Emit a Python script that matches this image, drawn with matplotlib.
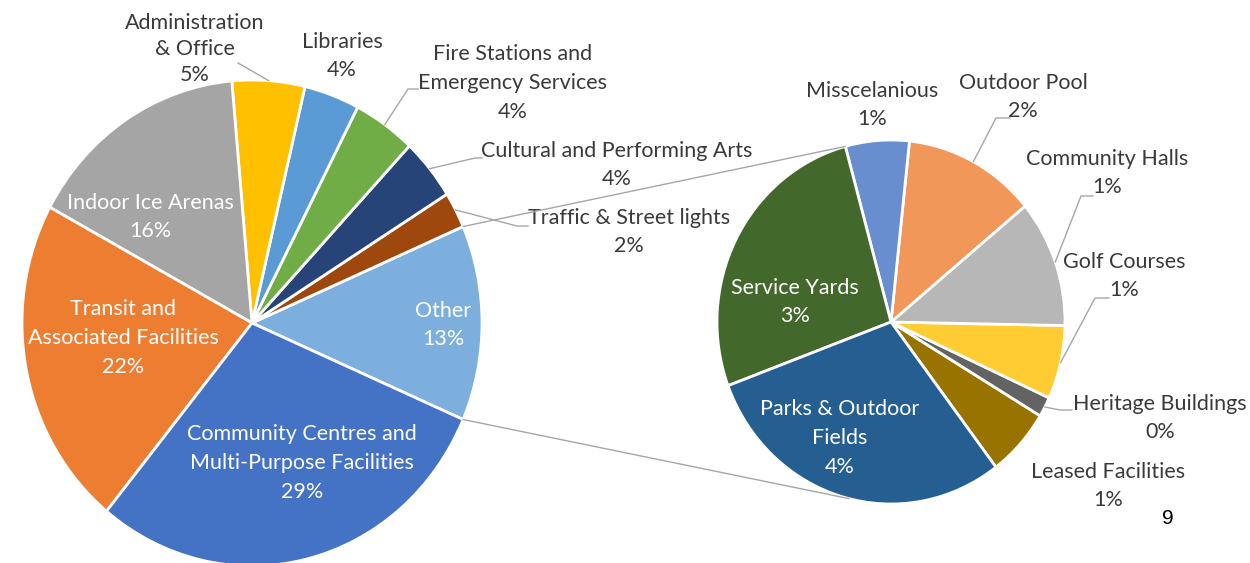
"""Pie-of-pie: facility categories, with 'Other' broken out on the right."""

import matplotlib

matplotlib.use("Agg")
import matplotlib.pyplot as plt  # noqa: E402
import numpy as np  # noqa: E402
from matplotlib.patches import ConnectionPatch  # noqa: E402

plt.rcParams["font.family"] = ["Lato", "DejaVu Sans"]

# main pie, counter-clockwise starting at "Other"
main_names = [
    "Traffic & Street lights",
    "Cultural and Performing Arts",
    "Fire Stations and\nEmergency Services",
    "Libraries",
    "Administration\n& Office",
    "Indoor Ice Arenas",
    "Transit and\nAssociated Facilities",
    "Community Centres and\nMulti-Purpose Facilities",
]
main_values = [2.4, 4.1, 4.4, 3.9, 5.1, 15.7, 22.0, 29.4]
main_colors = ["#9E480E", "#264478", "#70AD47", "#5B9BD5", "#FFC000",
               "#A5A5A5", "#ED7D31", "#4472C4"]
other_color = "#7CAFDD"

# breakdown of "Other", counter-clockwise starting at "Leased Facilities"
other_names = [
    "Leased Facilities",
    "Heritage Buildings",
    "Golf Courses",
    "Community Halls",
    "Outdoor Pool",
    "Misscelanious",
    "Service Yards",
    "Parks & Outdoor\nFields",
]
other_values = [0.79, 0.23, 0.85, 1.47, 1.60, 0.77, 3.44, 3.85]
other_colors = ["#997300", "#636363", "#FFCD33", "#B7B7B7", "#F1975A",
                "#698ED0", "#43682B", "#255E91"]

W, H = 1250, 563
fig = plt.figure(figsize=(W / 100, H / 100), dpi=100)


def pie_axes(cx, cy, rx, ry):
    """Axes covering the figure, unit circle centred at pixel (cx, cy)."""
    ax = fig.add_axes([0, 0, 1, 1])
    return ax, ((0 - cx) / rx, (W - cx) / rx), ((cy - H) / ry, cy / ry)


wedge_kw = dict(edgecolor="white", linewidth=2)

axL, xl, yl = pie_axes(252, 323, 230, 243)
left_vals = [sum(other_values)] + main_values
total = sum(left_vals)
wedgesL, _ = axL.pie(left_vals, colors=[other_color] + main_colors,
                     startangle=-180 * left_vals[0] / total,
                     wedgeprops=wedge_kw)
axL.set_aspect("auto")
axL.set_xlim(xl)
axL.set_ylim(yl)
axL.axis("off")

axR, xr, yr = pie_axes(891, 322, 174, 182)
wedgesR, _ = axR.pie(other_values, colors=other_colors, startangle=-52.9,
                     wedgeprops=wedge_kw)
axR.set_aspect("auto")
axR.set_xlim(xr)
axR.set_ylim(yr)
axR.axis("off")

# overlay in pixel coordinates for labels and leader lines
ov = fig.add_axes([0, 0, 1, 1])
ov.set_xlim(0, W)
ov.set_ylim(H, 0)
ov.axis("off")
ov.patch.set_alpha(0)

dark = "#3a3a3a"
line_gray = "#A6A6A6"
white_labels = {"Other", "Indoor Ice Arenas", "Transit and\nAssociated Facilities",
                "Community Centres and\nMulti-Purpose Facilities",
                "Service Yards", "Parks & Outdoor\nFields"}

label_pos = {
    "Other": (443, 325),
    "Traffic & Street lights": (629, 232),
    "Cultural and Performing Arts": (617, 165),
    "Fire Stations and\nEmergency Services": (513, 83),
    "Libraries": (342, 56),
    "Administration\n& Office": (195, 49),
    "Indoor Ice Arenas": (150, 217),
    "Transit and\nAssociated Facilities": (123, 338),
    "Community Centres and\nMulti-Purpose Facilities": (302, 463),
    "Leased Facilities": (1108, 486),
    "Heritage Buildings": (1160, 418),
    "Golf Courses": (1124, 276),
    "Community Halls": (1107, 173),
    "Outdoor Pool": (1023, 97),
    "Misscelanious": (872, 105),
    "Service Yards": (795, 302),
    "Parks & Outdoor\nFields": (840, 438),
}
tight_spacing = {"Administration\n& Office": 1.36, "Libraries": 1.45}

leaders = {
    "Administration\n& Office": [(238, 63)],
    "Fire Stations and\nEmergency Services": [(408, 89), (418, 89)],
    "Cultural and Performing Arts": [(475, 158), (482, 158)],
    "Traffic & Street lights": [(517, 226), (528, 226)],
    "Outdoor Pool": [(996, 118), (1010, 118)],
    "Community Halls": [(1081, 196), (1093, 196)],
    "Golf Courses": [(1095, 298), (1109, 298)],
    "Heritage Buildings": [(1060, 410), (1072, 410)],
}


def edge_point(ax, wedge):
    mid = np.deg2rad((wedge.theta1 + wedge.theta2) / 2)
    disp = ax.transData.transform((np.cos(mid), np.sin(mid)))
    return ov.transData.inverted().transform(disp)


def put_labels(ax, names, values, wedges):
    for name, val, w in zip(names, values, wedges):
        x, y = label_pos[name]
        color = "white" if name in white_labels else dark
        ov.text(x, y, f"{name}\n{val / total * 100:.0f}%", ha="center",
                va="center", fontsize=15.5, color=color,
                linespacing=tight_spacing.get(name, 1.56))
        if name in leaders:
            pts = [edge_point(ax, w)] + leaders[name]
            xs, ys = zip(*pts)
            ov.plot(xs, ys, color=line_gray, lw=1)


put_labels(axL, ["Other"] + main_names, left_vals, wedgesL)
put_labels(axR, other_names, other_values, wedgesR)

# connectors from "Other" to the breakdown pie
wo = wedgesL[0]
top_r = np.deg2rad(wedgesR[other_names.index("Service Yards")].theta1)
bot_r = np.deg2rad(256)
for a_left, a_right in [(np.deg2rad(wo.theta2), top_r), (np.deg2rad(wo.theta1), bot_r)]:
    con = ConnectionPatch(xyA=(np.cos(a_left), np.sin(a_left)), coordsA=axL.transData,
                          xyB=(np.cos(a_right), np.sin(a_right)), coordsB=axR.transData,
                          color=line_gray, lw=1)
    fig.add_artist(con)

ov.text(1168, 518, "9", ha="center", va="center", fontsize=15, color="black",
        family="Liberation Sans")

fig.savefig("out.png", dpi=100)
